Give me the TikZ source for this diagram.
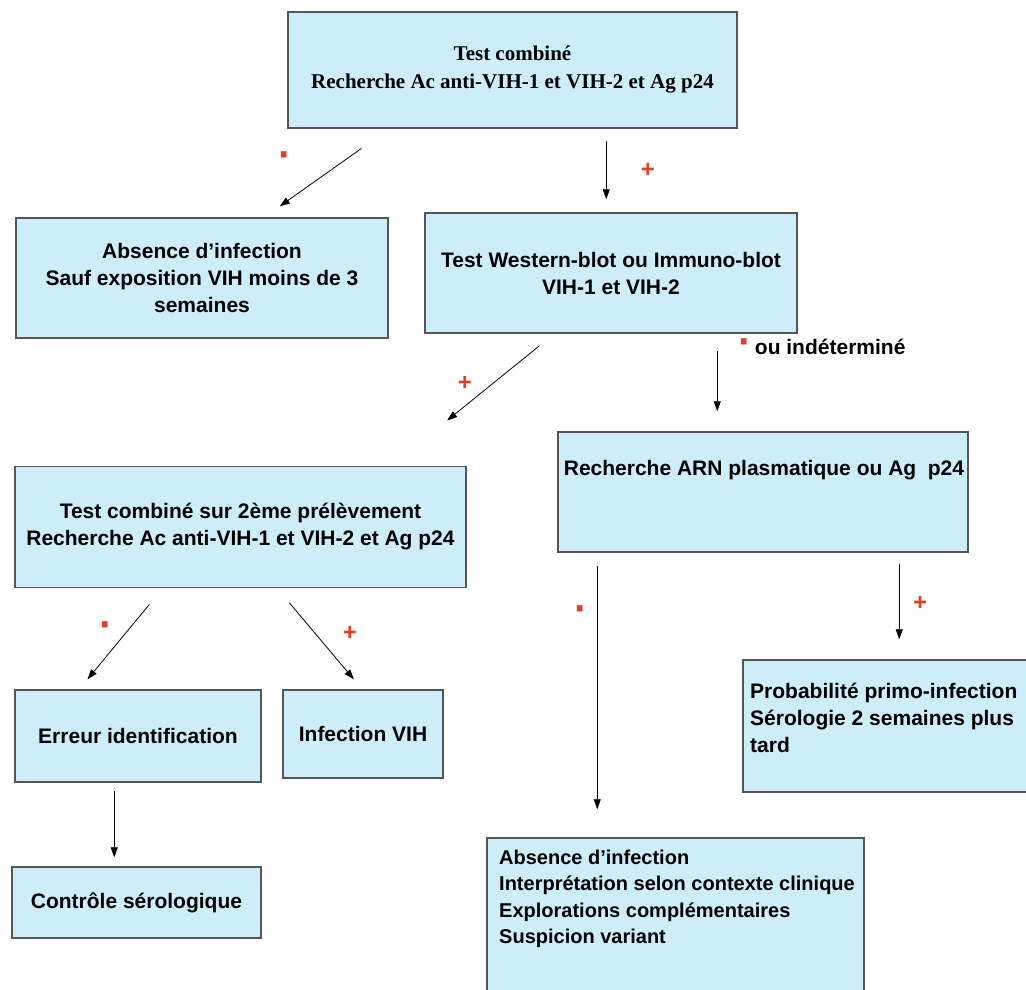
\documentclass[tikz,border=0pt]{standalone}
\usepackage{fontspec}
\setmainfont{Liberation Sans}
\newfontfamily\timesfont{Liberation Serif}
\usetikzlibrary{arrows.meta,calc}
\definecolor{boxfill}{RGB}{205,237,250}
\definecolor{boxline}{RGB}{85,85,85}
\definecolor{signred}{RGB}{226,62,42}
\begin{document}
\begin{tikzpicture}[x=1pt,y=-1pt,
  box/.style={draw=boxline, fill=boxfill, line width=1.5pt, inner sep=0pt,
    align=center, font=\bfseries\fontsize{21}{27}\selectfont},
  txt/.style={inner sep=0pt, font=\bfseries\fontsize{21}{27}\selectfont},
  arr/.style={-{Triangle[length=10pt,width=7pt]}, line width=0.8pt, black},
  plus/.style={text=signred, inner sep=0pt, font=\bfseries\fontsize{24}{24}\selectfont},
  minus/.style={text=signred, inner sep=0pt, font=\bfseries\fontsize{22}{22}\selectfont}]
\useasboundingbox (0,0) rectangle (1026,989);
\clip (0,0) rectangle (1026,989);
\fill[white] (0,0) rectangle (1026,989);

% boxes
\node[box, minimum width=449pt, minimum height=116pt,
  font=\timesfont\bfseries\fontsize{21}{28}\selectfont] (top) at (512.5,70)
  {Test combiné\\Recherche Ac anti-VIH-1 et VIH-2 et Ag p24};
\node[box, minimum width=372pt, minimum height=120pt] (neg1) at (202,278)
  {Absence d’infection\\Sauf exposition VIH moins de 3\\semaines};
\node[box, minimum width=372pt, minimum height=120pt] (wb) at (611,273)
  {Test Western-blot ou Immuno-blot\\VIH-1 et VIH-2};
\node[box, minimum width=451pt, minimum height=121pt] (comb2) at (240.5,527)
  {Test combiné sur 2ème prélèvement\\Recherche Ac anti-VIH-1 et VIH-2 et Ag p24};
\node[box, minimum width=410pt, minimum height=120pt] (arn) at (763,492) {};
\node[txt] (arntxt) at (764,470) {Recherche ARN plasmatique ou Ag~~p24};
\node[box, minimum width=246pt, minimum height=92pt] (err) at (138,736)
  {Erreur identification};
\node[box, minimum width=160pt, minimum height=88pt] (vih) at (363,734)
  {Infection VIH};
\node[box, minimum width=249pt, minimum height=71pt] (ctrl) at (136.5,902.5)
  {Contrôle sérologique};
\node[box, minimum width=290pt, minimum height=132pt] (prob) at (888,726) {};
\node[txt, align=left, anchor=west] (probtxt) at (750,718)
  {Probabilité primo-infection\\Sérologie 2 semaines plus\\tard};
\node[box, minimum width=377pt, minimum height=170pt] (neg2) at (675.5,923) {};
\node[txt, align=left, anchor=west, font=\bfseries\fontsize{20}{26.5}\selectfont]
  (neg2txt) at (499,899)
  {Absence d’infection\\Interprétation selon contexte clinique\\Explorations complémentaires\\Suspicion variant};

% connectors
\draw[arr, shorten <=34pt, shorten >=19pt]
  ([xshift=102pt]top.south west) -- ([xshift=249pt]neg1.north west);
\draw[arr, shorten <=12pt, shorten >=13pt]
  ([xshift=319pt]top.south west) -- ([xshift=319pt]top.south west |- wb.north);
\draw[arr, shorten <=19pt, shorten >=72pt]
  ([xshift=130pt]wb.south west) -- ([xshift=377pt]comb2.north west);
\draw[arr, shorten <=17pt, shorten >=20pt]
  ([xshift=293pt]wb.south west) -- ([xshift=293pt]wb.south west |- arn.north);
\draw[arr, shorten <=21pt, shorten >=13pt]
  ([xshift=148.5pt]comb2.south west) -- ([xshift=65pt]err.north west);
\draw[arr, shorten <=19pt, shorten >=13pt]
  ([xshift=262.8pt]comb2.south west) -- ([xshift=80pt]vih.north west);
\draw[arr, shorten <=13pt, shorten >=28pt]
  ([xshift=40pt]arn.south west) -- ([xshift=40pt]arn.south west |- neg2.north);
\draw[arr, shorten <=11pt, shorten >=20pt]
  ([xshift=342pt]arn.south west) -- ([xshift=342pt]arn.south west |- prob.north);
\draw[arr, shorten <=8pt, shorten >=9pt]
  ([xshift=100pt]err.south west) -- ([xshift=100pt]err.south west |- ctrl.north);

% branch signs
\node[minus] (s1) at (284,160) {\scalebox{1}[2.4]{-}};
\node[plus] (s2) at (648,170) {+};
\node[plus] (s3) at (465,383) {+};
\node[minus, anchor=west] (s4) at (740,347) {\scalebox{1}[2.4]{-}};
\node[txt, anchor=west] (s4txt) at ([xshift=7pt]s4.east) {ou indéterminé};
\node[minus] (s5) at (105,630) {\scalebox{1}[2.4]{-}};
\node[plus] (s6) at (350,633) {+};
\node[minus] (s7) at (580,614) {\scalebox{1}[2.4]{-}};
\node[plus] (s8) at (920,603) {+};
\end{tikzpicture}
\end{document}
